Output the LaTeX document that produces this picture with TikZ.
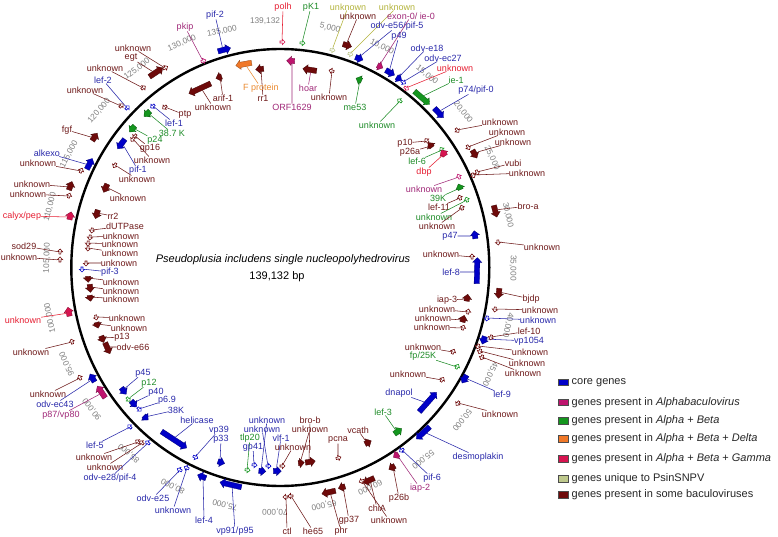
\documentclass[tikz,border=0pt]{standalone}
\usepackage{fontspec}
\setmainfont{Liberation Sans}
\usetikzlibrary{shapes.arrows}
\definecolor{fC}{RGB}{0,0,200}     \definecolor{tC}{RGB}{40,40,170}
\definecolor{fA}{RGB}{190,20,110}  \definecolor{tA}{RGB}{160,40,120}
\definecolor{fAB}{RGB}{20,150,30}  \definecolor{tAB}{RGB}{30,140,40}
\definecolor{fABD}{RGB}{240,120,40}\definecolor{tABD}{RGB}{235,140,50}
\definecolor{fABG}{RGB}{215,20,80} \definecolor{tABG}{RGB}{230,30,50}
\definecolor{fU}{RGB}{190,200,140} \definecolor{tU}{RGB}{180,180,60}
\definecolor{fS}{RGB}{110,10,10}   \definecolor{tS}{RGB}{110,25,25}
\tikzset{
 lab/.style={font=\fontsize{9}{10}\selectfont, inner sep=0pt},
 gene/.style={single arrow, inner sep=0pt, text height=5pt, text depth=0pt,
   single arrow head extend=2pt, line width=0.3pt},
 hgene/.style={single arrow, inner sep=0pt, text height=1.4pt, text depth=0pt,
   single arrow head extend=1.6pt, minimum height=5pt, fill=white, line width=0.6pt},
 conn/.style={line width=0.55pt},
 tick/.style={font=\fontsize{8.3}{9}\selectfont, text=black!50, inner sep=0pt},
 lbox/.style={draw=black!70, line width=0.4pt, minimum width=10.5pt, minimum height=6.7pt, inner sep=0pt},
 legtxt/.style={font=\fontsize{11}{13}\selectfont, text=black!85, inner sep=0pt, anchor=west},
}
% #1 id, #2 #3 label xy, #4 text, #5 category, #6 #7 gene xy, #8 1=outside/-1=inside, #9 length (0 = small open arrow)
\newcommand\gl[9]{%
 \pgfmathsetmacro\gphi{atan2(-(#7-267.5)/218.5,(#6-280.3)/209)-90*(#8)}%
 \ifdim #9pt>0pt
   \node[gene, minimum height=#9pt, fill=f#5, draw=f#5!60!black, rotate=\gphi] (G#1) at (#6,#7) {};
 \else
   \node[hgene, draw=f#5, rotate=\gphi] (G#1) at (#6,#7) {};
 \fi
 \node[lab, text=t#5] (L#1) at (#2,#3) {#4};
 \draw[conn, t#5] (L#1) -- (G#1);
}
\begin{document}
\begin{tikzpicture}[x=1pt,y=-1pt]
\useasboundingbox (0,0) rectangle (778,537);
\fill[white] (0,0) rectangle (778,537);
\draw[line width=2.4pt] (280.3,267.5) ellipse [x radius=209pt, y radius=218.5pt];

% ticks
\node[tick] (k0) at (265,21) {139,132};
\node[tick, rotate=-12.9] (k5) at (330,28) {5,000};
\node[tick, rotate=-25.9] (k10) at (382,47) {10,000};
\node[tick, rotate=-38.8] (k15) at (427,75) {15,000};
\node[tick, rotate=-51.7] (k20) at (463,112) {20,000};
\node[tick, rotate=-64.7] (k25) at (492,158) {25,000};
\node[tick, rotate=-77.6] (k30) at (508,215) {30,000};
\node[tick, rotate=-90.6] (k35) at (513,268) {35,000};
\node[tick, rotate=-103.5] (k40) at (508,325) {40,000};
\node[tick, rotate=-116.4] (k45) at (490,374) {45,000};
\node[tick, rotate=-129.4] (k50) at (462,420) {50,000};
\node[tick, rotate=-142.3] (k55) at (423,459) {55,000};
\node[tick, rotate=-155.2] (k60) at (370,487) {60,000};
\node[tick, rotate=-168.2] (k65) at (324,505) {65,000};
\node[tick, rotate=-181.1] (k70) at (275,512) {70,000};
\node[tick, rotate=-194.1] (k75) at (225,505) {75,000};
\node[tick, rotate=-207.0] (k80) at (173,486) {80,000};
\node[tick, rotate=-220.0] (k85) at (129,453) {85,000};
\node[tick, rotate=-232.9] (k90) at (92,409) {90,000};
\node[tick, rotate=-245.8] (k95) at (67,364) {95,000};
\node[tick, rotate=-258.7] (k100) at (50,318) {100,000};
\node[tick, rotate=-271.7] (k105) at (47,258) {105,000};
\node[tick, rotate=-284.6] (k110) at (50,207) {110,000};
\node[tick, rotate=-297.6] (k115) at (69,154) {115,000};
\node[tick, rotate=-310.5] (k120) at (99,111) {120,000};
\node[tick, rotate=-323.4] (k125) at (137,69) {125,000};
\node[tick, rotate=-336.4] (k130) at (182,43) {130,000};
\node[tick, rotate=-349.3] (k135) at (222,31) {135,000};

% top
\gl{1}{283}{7}{polh}{ABG}{282}{42}{1}{0}
\gl{2}{311}{7}{pK1}{AB}{302}{43}{1}{0}
\gl{3}{348}{7}{unknown}{U}{332}{50}{1}{0}
\gl{4}{397}{7}{unknown}{U}{350}{54}{1}{0}
\gl{5}{358}{16}{unknown}{S}{346}{45}{1}{9}
\gl{6}{397}{26}{odv-e56/pif-5}{C}{358}{58}{1}{8}
\gl{7}{411}{16}{exon-0/ ie-0}{A}{379}{66}{1}{6}
\gl{8}{399}{36}{p49}{C}{389}{72}{1}{10}
\gl{9}{427}{48}{odv-e18}{C}{398}{78}{1}{6}
\gl{10}{443}{58}{odv-ec27}{C}{403}{82}{1}{0}
\gl{11}{455}{68}{unknown}{ABG}{406}{88}{1}{0}
\gl{12}{456}{80}{ie-1}{AB}{421}{97}{1}{20}
\gl{13}{476}{90}{p74/pif-0}{C}{438}{112}{1}{13}
% top inside
\gl{14}{355}{107}{me53}{AB}{360}{80}{-1}{6}
\gl{15}{377}{125}{unknown}{AB}{400}{101}{-1}{0}
\pgfmathsetmacro\gphi{atan2(-(70-267.5)/218.5,(311-280.3)/209)+90}
\node[gene, minimum height=14pt, fill=fS, draw=fS!60!black, rotate=\gphi] (G16) at (311,70) {};
\node[lab, text=tA] (L16) at (308,88) {hoar};
\draw[conn, tA] (L16) -- (G16);
\gl{17}{329}{97}{unknown}{S}{332}{71}{-1}{0}
\gl{18}{292}{107}{ORF1629}{A}{292}{61}{-1}{8}
\gl{19}{263}{98}{rr1}{S}{261}{69}{-1}{8}
\gl{20}{261}{88}{F protein}{ABD}{245}{64}{-1}{16}
\gl{21}{223}{98}{arif-1}{S}{220}{77}{-1}{6}
\gl{22}{213}{107}{unknown}{S}{201}{88}{-1}{24}
\gl{23}{215}{15}{pif-2}{C}{223}{50}{1}{13}
\gl{24}{185}{27}{pkip}{A}{203}{61}{1}{0}
\gl{25}{185}{115}{ptp}{S}{165}{107}{-1}{0}
\gl{26}{174}{123}{lef-1}{C}{153}{106}{-1}{0}
\gl{27}{172}{133}{38.7 K}{AB}{148}{113}{-1}{8}
\gl{28}{155}{140}{p24}{AB}{133}{128}{-1}{8}
\gl{29}{150}{148}{gp16}{S}{135}{136}{-1}{0}
\gl{30}{152}{160}{unknown}{S}{133}{139}{-1}{0}
\gl{31}{138}{170}{pif-1}{C}{122}{143}{-1}{12}
\gl{32}{137}{179}{unknown}{S}{115}{165}{-1}{0}
\gl{33}{128}{198}{unknown}{S}{106}{187}{-1}{9}
\gl{34}{113}{216}{rr2}{S}{97}{213}{-1}{9}
% upper left outside
\gl{35}{133}{48}{unknown}{S}{165}{68}{1}{0}
\gl{36}{131}{58}{egt}{S}{155}{73}{1}{16}
\gl{37}{105}{68}{unknown}{S}{143}{88}{1}{0}
\gl{38}{103}{80}{lef-2}{C}{127}{108}{1}{0}
\gl{39}{85}{90}{unknown}{S}{121}{106}{1}{0}
\gl{40}{67}{130}{fgf}{S}{94}{138}{1}{9}
\gl{41}{47}{153}{alkexo}{C}{89}{165}{1}{12}
\gl{42}{38}{163}{unknown}{S}{81}{171}{1}{0}
\gl{43}{32}{184}{unknown}{S}{70}{187}{1}{9}
\gl{44}{28}{194}{unknown}{S}{69}{196}{1}{0}
\gl{45}{22}{216}{calyx/pep}{ABG}{70}{217}{1}{8}
\gl{46}{24}{246}{sod29}{S}{60}{252}{1}{0}
\gl{47}{19}{257}{unknown}{S}{60}{260}{1}{0}
\gl{48}{23}{320}{unknown}{ABG}{69}{313}{1}{9}
\gl{49}{31}{352}{unknown}{S}{72}{342}{1}{0}
\gl{50}{48}{394}{unknown}{S}{80}{378}{1}{0}
\gl{51}{55}{404}{odv-ec43}{C}{93}{379}{1}{9}
\gl{52}{61}{415}{p87/vp80}{A}{102}{393}{1}{14}
% left inside
\gl{53}{125}{226}{dUTPase}{S}{92}{230}{-1}{0}
\gl{54}{121}{236}{unknown}{S}{90}{237}{-1}{0}
\gl{55}{120}{244}{unknown}{S}{88}{243}{-1}{0}
\gl{56}{120}{253}{unknown}{S}{88}{248}{-1}{0}
\gl{57}{119}{263}{unknown}{S}{86}{263}{-1}{0}
\gl{58}{110}{272}{pif-3}{C}{82}{269}{-1}{0}
\gl{59}{121}{282}{unknown}{S}{88}{278}{-1}{6}
\gl{60}{121}{291}{unknown}{S}{90}{287}{-1}{8}
\gl{61}{121}{299}{unknown}{S}{90}{297}{-1}{6}
\gl{62}{127}{318}{unknown}{S}{96}{317}{-1}{0}
\gl{63}{129}{328}{unknown}{S}{97}{324}{-1}{6}
\gl{64}{122}{337}{p13}{S}{102}{338}{-1}{7}
\gl{65}{133}{347}{odv-e66}{S}{107}{347}{-1}{12}
% lower left inside
\gl{66}{143}{373}{p45}{C}{123}{390}{-1}{8}
\gl{67}{149}{383}{p12}{AB}{128}{399}{-1}{0}
\gl{68}{156}{392}{p40}{C}{133}{403}{-1}{8}
\gl{69}{167}{400}{p6.9}{C}{139}{409}{-1}{0}
\gl{70}{176}{410}{38K}{C}{145}{417}{-1}{6}
\gl{71}{197}{420}{helicase}{C}{173}{439}{-1}{30}
\gl{72}{219}{430}{vp39}{C}{195}{457}{-1}{0}
\gl{73}{221}{439}{p33}{C}{220}{462}{-1}{7}
\gl{74}{250}{438}{tlp20}{AB}{247}{470}{-1}{0}
\gl{75}{253}{447}{gp41}{C}{254}{465}{-1}{0}
\gl{76}{267}{420}{unknown}{C}{261}{471}{-1}{7}
\gl{77}{262}{429}{unknown}{C}{268}{466}{-1}{0}
\gl{78}{281}{438}{vlf-1}{C}{276}{471}{-1}{8}
\gl{79}{293}{447}{unknown}{S}{282}{466}{-1}{0}
\gl{80}{310}{420}{bro-b}{S}{309}{462}{-1}{10}
\gl{81}{310}{429}{unknown}{S}{300}{463}{-1}{6}
\gl{82}{338}{440}{pcna}{S}{338}{458}{-1}{0}
\gl{83}{358}{430}{vcath}{S}{367}{443}{-1}{7}
\gl{84}{383}{412}{lef-3}{AB}{397}{432}{-1}{9}
\gl{85}{399}{393}{dnapol}{C}{427}{403}{-1}{26}
% lower left outside
\gl{86}{95}{445}{lef-5}{C}{130}{427}{1}{0}
\gl{87}{94}{457}{unknown}{S}{138}{442}{1}{0}
\gl{88}{105}{467}{unknown}{S}{142}{443}{1}{0}
\gl{89}{110}{478}{odv-e28/pif-4}{C}{148}{443}{1}{0}
\gl{90}{153}{498}{odv-e25}{C}{180}{470}{1}{0}
\gl{91}{173}{510}{unknown}{C}{187}{468}{1}{0}
\gl{92}{204}{520}{lef-4}{C}{203}{477}{1}{9}
\gl{93}{235}{531}{vp91/p95}{C}{232}{485}{1}{22}
% bottom outside
\gl{94}{287}{531}{ctl}{S}{286}{497}{1}{0}
\gl{95}{313}{531}{he65}{S}{291}{496}{1}{0}
\gl{96}{341}{531}{phr}{S}{330}{492}{1}{14}
\gl{97}{349}{520}{gp37}{S}{343}{487}{1}{7}
\gl{98}{377}{508}{chiA}{S}{370}{480}{1}{12}
\gl{99}{389}{520}{unknown}{S}{362}{481}{1}{0}
\gl{100}{399}{498}{p26b}{S}{393}{467}{1}{7}
\gl{101}{420}{488}{iap-2}{A}{397}{455}{1}{6}
\gl{102}{432}{478}{pif-6}{C}{402}{450}{1}{0}
\gl{103}{478}{457}{desmoplakin}{C}{424}{432}{1}{18}
% right outside
\gl{104}{502}{394}{lef-9}{C}{465}{378}{1}{9}
\gl{105}{500}{414}{unknown}{S}{458}{403}{1}{0}
\gl{106}{523}{373}{unknown}{S}{482}{357}{1}{0}
\gl{107}{527}{363}{unknown}{S}{480}{351}{1}{0}
\gl{108}{530}{352}{unknown}{S}{478}{346}{1}{0}
\gl{109}{529}{341}{vp1054}{C}{484}{339}{1}{8}
\gl{110}{529}{331}{lef-10}{S}{491}{337}{1}{0}
\gl{111}{538}{320}{unknown}{C}{487}{318}{1}{0}
\gl{112}{540}{310}{unknown}{S}{495}{309}{1}{0}
\gl{113}{531}{299}{bjdp}{S}{499}{292}{1}{10}
\gl{114}{542}{247}{unknown}{S}{498}{242}{1}{0}
\gl{115}{528}{206}{bro-a}{S}{495}{210}{1}{12}
\gl{116}{527}{173}{unknown}{S}{473}{175}{1}{0}
\gl{117}{513}{163}{vubi}{S}{477}{172}{1}{0}
\gl{118}{513}{142}{unknown}{S}{474}{153}{1}{9}
\gl{119}{507}{132}{unknown}{S}{468}{147}{1}{0}
\gl{120}{500}{122}{unknown}{S}{457}{130}{1}{0}
% right inside
\gl{121}{405}{143}{p10}{S}{427}{141}{-1}{0}
\gl{122}{410}{152}{p26a}{S}{431}{146}{-1}{6}
\gl{123}{417}{161}{lef-6}{AB}{442}{150}{-1}{0}
\gl{124}{424}{172}{dbp}{ABG}{444}{154}{-1}{7}
\gl{125}{424}{189}{unknown}{A}{459}{177}{-1}{0}
\gl{126}{438}{198}{39K}{AB}{460}{188}{-1}{6}
\gl{127}{439}{207}{lef-11}{S}{460}{198}{-1}{0}
\gl{128}{434}{217}{unknown}{AB}{467}{200}{-1}{0}
\gl{129}{437}{226}{unknown}{S}{462}{208}{-1}{0}
\gl{130}{450}{236}{p47}{C}{475}{236}{-1}{8}
\gl{131}{441}{254}{unknown}{S}{472}{257}{-1}{0}
\gl{132}{451}{272}{lef-8}{C}{477}{272}{-1}{26}
\gl{133}{447}{300}{iap-3}{S}{467}{299}{-1}{7}
\gl{134}{437}{309}{unknown}{S}{468}{312}{-1}{0}
\gl{135}{433}{318}{unknown}{S}{463}{320}{-1}{7}
\gl{136}{432}{327}{unknown}{S}{463}{328}{-1}{0}
\gl{137}{423}{347}{unknwon}{S}{453}{352}{-1}{0}
\gl{138}{423}{356}{fp/25K}{AB}{457}{367}{-1}{0}
\gl{139}{408}{374}{unknown}{S}{442}{380}{-1}{0}

% centre
\node[font=\fontsize{11}{13}\selectfont\itshape] (title) at (283,260) {Pseudoplusia includens single nucleopolyhedrovirus};
\node[font=\fontsize{11}{13}\selectfont] (size) at (277,277) {139,132 bp};

% legend
\node[lbox, fill=fC] (b1) at (563,382.3) {};
\node[legtxt] (e1) at (571.5,382.3) {core genes};
\node[lbox, fill=fA] (b2) at (563,402.3) {};
\node[legtxt] (e2) at (571.5,402.3) {genes present in \textit{Alphabaculovirus}};
\node[lbox, fill=fAB] (b3) at (563,420.7) {};
\node[legtxt] (e3) at (571.5,420.7) {genes present in \textit{Alpha} + \textit{Beta}};
\node[lbox, fill=fABD] (b4) at (563,439) {};
\node[legtxt] (e4) at (571.5,439) {genes present in \textit{Alpha} + \textit{Beta} + \textit{Delta}};
\node[lbox, fill=fABG] (b5) at (563,459) {};
\node[legtxt] (e5) at (571.5,459) {genes present in \textit{Alpha} + \textit{Beta} + \textit{Gamma}};
\node[lbox, fill=fU] (b6) at (563,479) {};
\node[legtxt] (e6) at (571.5,479) {genes unique to PsinSNPV};
\node[lbox, fill=fS] (b7) at (563,495) {};
\node[legtxt] (e7) at (571.5,495) {genes present in some baculoviruses};
\end{tikzpicture}
\end{document}
